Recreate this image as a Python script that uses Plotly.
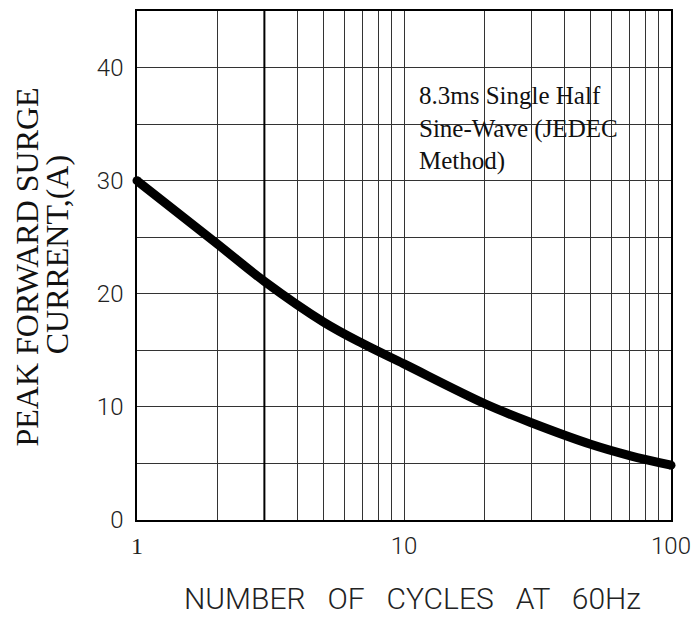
import plotly.graph_objects as go

# Data
cycles = [1, 2, 3, 5, 7, 10, 20, 30, 50, 70, 100]
surge_current = [30.0, 24.4, 21.1, 17.5, 15.6, 13.8, 10.3, 8.6, 6.7, 5.7, 4.85]

x_grid_vals = [1, 2, 3, 4, 5, 6, 7, 8, 9, 10, 20, 30, 40, 50, 60, 70, 80, 90, 100]
x_tick_labels = {1: "<span style='font-family:Liberation Serif'>1</span>", 10: "10", 100: "100"}
y_grid_vals = [0, 5, 10, 15, 20, 25, 30, 35, 40, 45]
y_tick_labels = {0: "0", 10: "10", 20: "20", 30: "30", 40: "40"}
emphasized_cycles = [3]

note_text = "8.3ms Single Half<br>Sine-Wave (JEDEC<br>Method)"
x_title = "NUMBER   OF   CYCLES   AT   60Hz"
y_title_lines = ["PEAK FORWARD SURGE", "CURRENT,(A)"]

thin = dict(family="Roboto", size=24, color="#222", weight=300)
serif = dict(family="Liberation Serif", size=32, color="#111")

fig = go.Figure()
fig.add_trace(go.Scatter(
    x=cycles, y=surge_current, mode="lines",
    line=dict(color="black", width=9, shape="spline", smoothing=1.0),
    cliponaxis=False, hoverinfo="skip", showlegend=False,
))
fig.add_trace(go.Scatter(
    x=[cycles[0], cycles[-1]], y=[surge_current[0], surge_current[-1]], mode="markers",
    marker=dict(color="black", size=9), cliponaxis=False, hoverinfo="skip", showlegend=False,
))

for c in emphasized_cycles:
    fig.add_trace(go.Scatter(
        x=[c, c], y=[y_grid_vals[0], y_grid_vals[-1]], mode="lines",
        line=dict(color="black", width=2), hoverinfo="skip", showlegend=False,
    ))

# white patch behind the note (covers the grid like the reference)
fig.add_shape(type="rect", xref="paper", yref="paper", x0=0.502, x1=0.918, y0=0.717, y1=0.831,
              fillcolor="white", line=dict(width=0), layer="between")

fig.add_annotation(
    x=0.524, y=0.864, xref="paper", yref="paper", xanchor="left", yanchor="top",
    text=note_text, align="left", showarrow=False,
    font=dict(family="Liberation Serif", size=25, color="#111"),
)

# y-axis title, two rotated lines
for txt, px, py in zip(y_title_lines, [-0.206, -0.1498], [0.498, 0.520]):
    fig.add_annotation(x=px, y=py, xref="paper", yref="paper", xanchor="center", yanchor="middle",
                       text=txt, textangle=-90, showarrow=False, font=serif)

# x-axis title
fig.add_annotation(x=0.515, y=-0.155, xref="paper", yref="paper", xanchor="center", yanchor="middle",
                   text=x_title, showarrow=False,
                   font=dict(family="Roboto", size=30, color="#222", weight=300))

# page body adds an 8px offset, so the figure is sized to fit the window
fig.update_layout(
    width=691, height=610,
    margin=dict(l=129, r=28, t=3, b=98),
    plot_bgcolor="white", paper_bgcolor="white",
)
fig.update_xaxes(
    type="log", range=[0, 2], automargin=False,
    tickvals=x_grid_vals, ticktext=[x_tick_labels.get(v, "") for v in x_grid_vals],
    showgrid=True, gridcolor="#333", gridwidth=1,
    showline=True, linecolor="black", linewidth=1.5, mirror=True,
    ticks="", tickfont=thin, ticklabelstandoff=3,
    zeroline=False,
)
fig.update_yaxes(
    range=[0, 45], automargin=False,
    tickvals=y_grid_vals, ticktext=[y_tick_labels.get(v, "") for v in y_grid_vals],
    showgrid=True, gridcolor="#333", gridwidth=1,
    showline=True, linecolor="black", linewidth=1.5, mirror=True,
    ticks="", tickfont=thin, ticklabelstandoff=7,
    zeroline=False,
)

fig.write_html("out.html")
